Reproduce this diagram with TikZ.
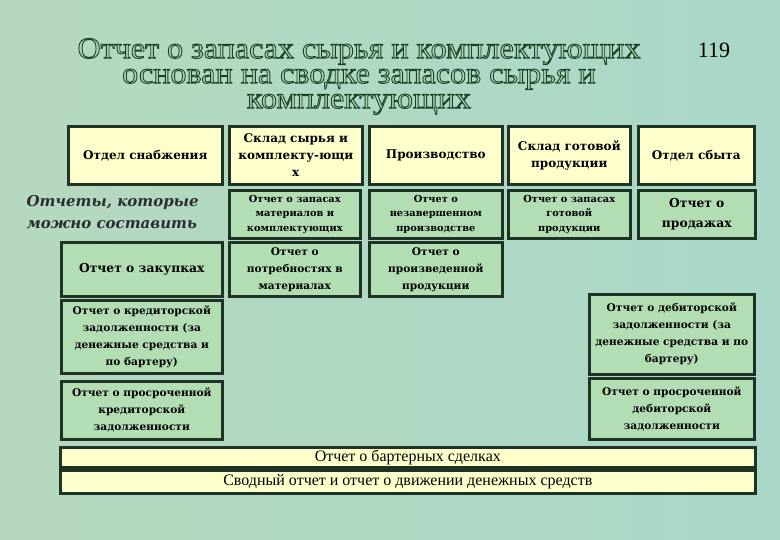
\documentclass[tikz,border=0pt]{standalone}
\usepackage{fontspec}
\setmainfont{Liberation Serif}
\newfontfamily\cellfont{DejaVu Serif}
\newfontfamily\titlefont[FakeBold=3, FakeStretch=1.07]{Liberation Serif}
\usetikzlibrary{positioning}
\definecolor{bgleft}{HTML}{B6D8BE}
\definecolor{bgmid}{HTML}{C8DDB2}
\definecolor{bgright}{HTML}{A9D8C8}
\definecolor{cellyellow}{HTML}{FFFFCC}
\definecolor{cellgreen}{HTML}{B3DEB3}
\definecolor{cellborder}{HTML}{1F3324}
\definecolor{titlelight}{HTML}{B3D2B5}
\definecolor{labelgray}{HTML}{2A2E33}
% dark stroke round the light title letters
\newcommand\titleedge{\special{pdf:literal direct 0.10 0.26 0.15 RG}}
\newcommand\reporttitle{Отчет о запасах сырья и комплектующих\\основан на сводке запасов сырья и\\комплектующих}
\tikzset{
  cell/.style={draw=cellborder, line width=2.6pt, align=center, inner sep=2pt, anchor=north west,
    font=\cellfont\bfseries\fontsize{12}{17}\selectfont},
  yellowcell/.style={cell, fill=cellyellow},
  greencell/.style={cell, fill=cellgreen},
  smalltext/.style={font=\cellfont\bfseries\fontsize{9.8}{14.5}\selectfont},
  midtext/.style={font=\cellfont\bfseries\fontsize{10.6}{17}\selectfont},
  bigtext/.style={font=\cellfont\bfseries\fontsize{12.3}{20}\selectfont},
  bartext/.style={font=\fontsize{16}{16}\selectfont},
  titletext/.style={font=\titlefont\fontsize{30}{25}\selectfont, align=center, text=titlelight},
  sidelabel/.style={text=labelgray, align=left, anchor=north west, font=\cellfont\bfseries\itshape\fontsize{15}{22}\selectfont}
}
\begin{document}
\begin{tikzpicture}[x=1pt, y=-1pt]
  \useasboundingbox (0,0) rectangle (780,540);
  \shade[left color=bgleft, middle color=bgmid, right color=bgright] (0,0) rectangle (780,540);

  % title
  \node[titletext] (title) at (359,76.5) {\titleedge\reporttitle};
  \node[font=\fontsize{22}{22}\selectfont] (pageno) at (714,50) {119};

  % departments
  \node[yellowcell, minimum width=154pt, minimum height=58pt] (supply) at (67,125) {Отдел снабжения};
  \node[yellowcell, minimum width=133pt, minimum height=58pt] (rawstore) at (228,125) {Склад сырья и\\комплекту-ющи\\х};
  \node[yellowcell, minimum width=133pt, minimum height=58pt] (production) at (368,125) {Производство};
  \node[yellowcell, minimum width=122pt, minimum height=58pt] (goodsstore) at (507,125) {Склад готовой\\продукции};
  \node[yellowcell, minimum width=116pt, minimum height=58pt] (sales) at (637,125) {Отдел сбыта};

  \node[sidelabel] (reportslabel) at (23,192) {Отчеты, которые\\можно составить};

  % reports
  \node[greencell, smalltext, minimum width=131pt, minimum height=48pt] (rawrep) at (228,189) {Отчет о запасах\\материалов и\\комплектующих};
  \node[greencell, smalltext, minimum width=133pt, minimum height=48pt] (wiprep) at (368,189) {Отчет о\\незавершенном\\производстве};
  \node[greencell, smalltext, minimum width=122pt, minimum height=48pt] (goodsrep) at (507,189) {Отчет о запасах\\готовой\\продукции};
  \node[greencell, bigtext, minimum width=117pt, minimum height=48pt] (salesrep) at (637,189) {Отчет о\\продажах};

  \node[greencell, bigtext, minimum width=161pt, minimum height=54pt] (purchrep) at (60,241) {Отчет о закупках};
  \node[greencell, midtext, minimum width=131pt, minimum height=54pt] (needrep) at (228,241) {Отчет о\\потребностях в\\материалах};
  \node[greencell, midtext, minimum width=133pt, minimum height=54pt] (outputrep) at (368,241) {Отчет о\\произведенной\\продукции};

  \node[greencell, midtext, minimum width=161pt, minimum height=73pt] (payrep) at (60,299) {Отчет о кредиторской\\задолженности (за\\денежные средства и\\по бартеру)};
  \node[greencell, midtext, minimum width=165pt, minimum height=80pt] (recvrep) at (588,293) {Отчет о дебиторской\\задолженности (за\\денежные средства и по\\бартеру)};
  \node[greencell, midtext, minimum width=161pt, minimum height=58pt] (overpayrep) at (60,380) {Отчет о просроченной\\кредиторской\\задолженности};
  \node[greencell, midtext, minimum width=165pt, minimum height=61pt] (overrecvrep) at (588,377) {Отчет о просроченной\\дебиторской\\задолженности};

  \node[yellowcell, bartext, inner sep=0pt, minimum width=695pt, minimum height=20pt] (barterrep) at (59,446) {Отчет о бартерных сделках};
  \node[yellowcell, bartext, inner sep=0pt, minimum width=695pt, minimum height=23pt] (summaryrep) at (59,469) {Сводный отчет и отчет о движении денежных средств};
\end{tikzpicture}
\end{document}
